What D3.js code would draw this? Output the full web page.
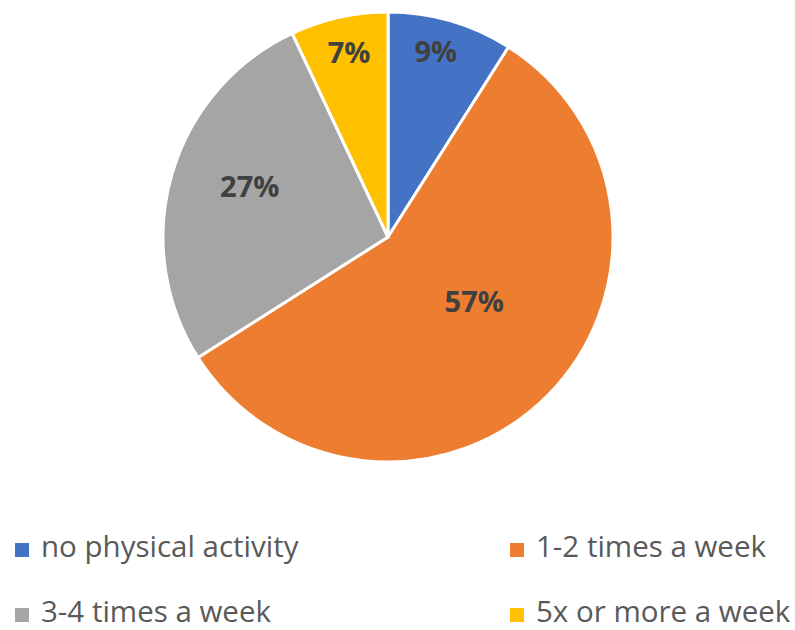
<!DOCTYPE html>
<html>
<head>
<meta charset="utf-8">
<script src="https://cdn.jsdelivr.net/npm/d3@7"></script>
<style>
  html, body { margin: 0; padding: 0; background: #fff; }
  svg { display: block; }
</style>
</head>
<body>
<svg id="chart" width="795" height="630"></svg>
<script>
// Weekly physical activity shares
const categories = ["no physical activity", "1-2 times a week", "3-4 times a week", "5x or more a week"];
const shares = [9, 57, 27, 7];
const colors = ["#4472C4", "#ED7D31", "#A5A5A5", "#FFC000"];

const svg = d3.select("#chart");
const cx = 388, cy = 237, radius = 225;

const pie = d3.pie().sort(null).value(d => d);
const arcs = pie(shares);
const arc = d3.arc().innerRadius(0).outerRadius(radius);

const g = svg.append("g").attr("transform", `translate(${cx},${cy})`);

g.selectAll("path.slice")
  .data(arcs)
  .enter().append("path")
  .attr("class", "slice")
  .attr("d", arc)
  .attr("fill", (d, i) => colors[i])
  .attr("stroke", "#fff")
  .attr("stroke-width", 3)
  .attr("stroke-linejoin", "round");

// Best-fit label placement: radial depth (fraction of radius) and angular nudge (degrees)
const labelDepth = [0.85, 0.48, 0.655, 0.84];
const labelNudge = [-1.7, -8, 4, 0.7];
g.selectAll("text.pct")
  .data(arcs)
  .enter().append("text")
  .attr("class", "pct")
  .attr("transform", (d, i) => {
    const r = radius * labelDepth[i];
    const a = (d.startAngle + d.endAngle) / 2 + labelNudge[i] * Math.PI / 180 - Math.PI / 2;
    return `translate(${r * Math.cos(a)},${r * Math.sin(a)})`;
  })
  .attr("text-anchor", "middle")
  .attr("dy", "0.36em")
  .attr("font-family", "'Open Sans', sans-serif")
  .attr("font-weight", "bold")
  .attr("font-size", 29)
  .attr("fill", "#404040")
  .text(d => d.value + "%");

// Legend: two columns, two rows
const colX = d3.scaleOrdinal().domain([0, 1]).range([15, 510]);
const rowY = d3.scaleOrdinal().domain([0, 1]).range([557, 622]);

const legend = svg.append("g").selectAll("g.item")
  .data(categories)
  .enter().append("g")
  .attr("class", "item")
  .attr("transform", (d, i) => `translate(${colX(i % 2)},${rowY(Math.floor(i / 2))})`);

legend.append("rect")
  .attr("x", 0)
  .attr("y", -14)
  .attr("width", 14)
  .attr("height", 14)
  .attr("fill", (d, i) => colors[i]);

legend.append("text")
  .attr("x", 26)
  .attr("y", 0)
  .attr("font-family", "'Open Sans', sans-serif")
  .attr("font-size", 29.5)
  .attr("fill", "#595959")
  .text(d => d);
</script>
</body>
</html>
